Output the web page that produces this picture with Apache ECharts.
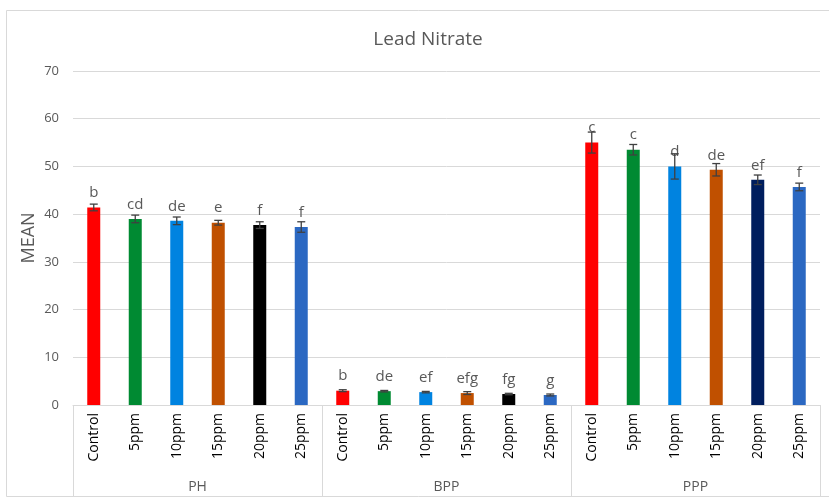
<!DOCTYPE html>
<html>
<head>
<meta charset="utf-8">
<script src="https://cdn.jsdelivr.net/npm/echarts@6/dist/echarts.min.js"></script>
<style>
  html, body { margin: 0; padding: 0; background: #ffffff; }
  #chart { width: 829px; height: 500px; }
</style>
</head>
<body>
<div id="chart"></div>
<script>
// Treatment levels within each extract group
const doses = ['Control', '5ppm', '10ppm', '15ppm', '20ppm', '25ppm'];
const groups = ['PH', 'BPP', 'PPP'];

// Mean values per group
const meanPH  = [41.4, 39.0, 38.6, 38.2, 37.7, 37.3];
const meanBPP = [3.0, 2.9, 2.7, 2.5, 2.3, 2.1];
const meanPPP = [55.0, 53.5, 50.0, 49.3, 47.2, 45.7];

// Error (± half-range) per group
const errPH  = [0.7, 0.8, 0.8, 0.5, 0.7, 1.1];
const errBPP = [0.2, 0.15, 0.15, 0.3, 0.15, 0.2];
const errPPP = [2.2, 1.1, 2.65, 1.3, 1.0, 0.8];

// Significance letters per group
const lettersPH  = ['b', 'cd', 'de', 'e', 'f', 'f'];
const lettersBPP = ['b', 'de', 'ef', 'efg', 'fg', 'g'];
const lettersPPP = ['c', 'c', 'd', 'de', 'ef', 'f'];

// Y axis ticks
const yMin = 0, yMax = 70, yStep = 10;

// Bar colours
const colorsPH  = ['#ff0000', '#008a32', '#0083e0', '#c05000', '#000000', '#2b68c2'];
const colorsBPP = ['#ff0000', '#008a32', '#0083e0', '#c05000', '#000000', '#2b68c2'];
const colorsPPP = ['#ff0000', '#008a32', '#0083e0', '#c05000', '#001e5e', '#2b68c2'];

const means = [].concat(meanPH, meanBPP, meanPPP);
const errs = [].concat(errPH, errBPP, errPPP);
const letters = [].concat(lettersPH, lettersBPP, lettersPPP);
const colors = [].concat(colorsPH, colorsBPP, colorsPPP);
const cats = [].concat(doses, doses, doses);
const catIdx = cats.map((_, i) => i);

const textColor = '#595959';
const gridColor = '#d9d9d9';
const font = "'Open Sans', 'Noto Sans', sans-serif";

const chart = echarts.init(document.getElementById('chart'), null, { renderer: 'canvas' });

chart.setOption({
  animation: false,
  backgroundColor: '#ffffff',
  textStyle: { fontFamily: font },
  title: {
    text: 'Lead Nitrate',
    left: 423,
    textAlign: 'center',
    top: 25,
    textStyle: { fontFamily: font, fontSize: 19, fontWeight: 'normal', color: textColor }
  },
  graphic: [{
    type: 'rect',
    shape: { x: 6.5, y: 10.5, width: 840, height: 486 },
    style: { fill: 'none', stroke: gridColor, lineWidth: 1 },
    silent: true,
    z: -1
  }],
  grid: { left: 73, right: 9, top: 71, bottom: 95, containLabel: false },
  xAxis: [{
    type: 'category',
    data: catIdx,
    position: 'bottom',
    axisLine: { show: true, lineStyle: { color: gridColor, width: 1 } },
    axisTick: { show: false },
    axisLabel: {
      rotate: 90,
      margin: 8,
      fontSize: 14,
      fontFamily: font,
      color: '#000000',
      interval: 0,
      formatter: v => cats[+v]
    }
  }, {
    type: 'category',
    data: groups,
    position: 'bottom',
    axisLine: { show: false },
    axisTick: { show: true, length: 92, interval: 0, lineStyle: { color: gridColor, width: 1 } },
    axisLabel: { margin: 75, fontSize: 14, fontFamily: font, color: textColor }
  }],
  yAxis: {
    type: 'value',
    min: yMin,
    max: yMax,
    interval: yStep,
    name: 'MEAN',
    nameLocation: 'middle',
    nameGap: 35,
    nameRotate: 90,
    nameMoveOverlap: false,
    nameTextStyle: { fontSize: 18, fontFamily: font, color: textColor },
    axisLine: { show: false },
    axisTick: { show: false },
    axisLabel: { fontSize: 13, fontFamily: font, color: textColor, margin: 14 },
    splitLine: { lineStyle: { color: gridColor, width: 1 } }
  },
  series: [{
    type: 'bar',
    xAxisIndex: 0,
    barWidth: 13,
    data: means.map((v, i) => ({ value: v, itemStyle: { color: colors[i] } })),
    label: {
      show: true,
      position: 'top',
      distance: 7,
      fontSize: 15,
      fontFamily: font,
      color: textColor,
      formatter: p => letters[p.dataIndex]
    },
    z: 2
  }, {
    type: 'custom',
    xAxisIndex: 0,
    data: means.map((v, i) => [i, v, errs[i]]),
    renderItem: (params, api) => {
      const x = api.value(0);
      const m = api.value(1);
      const e = api.value(2);
      const hi = api.coord([x, m + e]);
      const lo = api.coord([x, m - e]);
      const cap = 4;
      const style = { stroke: '#404040', lineWidth: 1.3 };
      return {
        type: 'group',
        children: [
          { type: 'line', shape: { x1: hi[0], y1: hi[1], x2: lo[0], y2: lo[1] }, style },
          { type: 'line', shape: { x1: hi[0] - cap, y1: hi[1], x2: hi[0] + cap, y2: hi[1] }, style },
          { type: 'line', shape: { x1: lo[0] - cap, y1: lo[1], x2: lo[0] + cap, y2: lo[1] }, style }
        ]
      };
    },
    z: 3
  }]
});
</script>
</body>
</html>
